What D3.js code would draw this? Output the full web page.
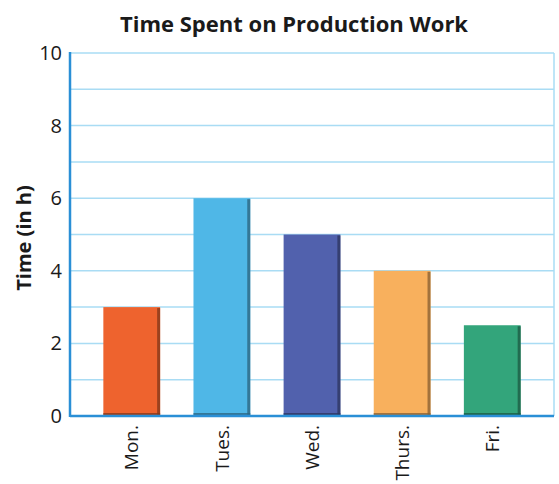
<!DOCTYPE html>
<html>
<head>
<meta charset="utf-8">
<script src="https://cdn.jsdelivr.net/npm/d3@7"></script>
<style>
  body { margin: 0; background: #fff; }
  text { font-family: "Open Sans", sans-serif; fill: #1a1a1a; }
</style>
</head>
<body>
<svg></svg>
<script>
// chart data
var days = ["Mon.", "Tues.", "Wed.", "Thurs.", "Fri."];
var hours = [3, 6, 5, 4, 2.5];
var yTicks = [0, 2, 4, 6, 8, 10];
var gridValues = [1, 2, 3, 4, 5, 6, 7, 8, 9, 10];

var width = 559, height = 484;
var margin = {left: 70, top: 53, right: 5, bottom: 68};

var svg = d3.select("svg")
    .attr("width", width)
    .attr("height", height);

var color = d3.scaleOrdinal()
    .domain(days)
    .range(["#ee632e", "#4fb7e7", "#5161ad", "#f8b05d", "#33a57b"]);

var xScale = d3.scaleBand()
    .domain(days)
    .range([margin.left, width - margin.right])
    .paddingInner(0.37)
    .paddingOuter(0.37);

var yScale = d3.scaleLinear()
    .domain([0, 10])
    .range([height - margin.bottom, margin.top]);

// gridlines
svg.append("g")
    .selectAll("line")
    .data(gridValues)
    .enter()
    .append("line")
    .attr("x1", margin.left)
    .attr("x2", width - margin.right)
    .attr("y1", function(d){ return yScale(d); })
    .attr("y2", function(d){ return yScale(d); })
    .style("stroke", "#a9dcf4")
    .style("stroke-width", 1.5);

// right border
svg.append("line")
    .attr("x1", width - margin.right)
    .attr("x2", width - margin.right)
    .attr("y1", yScale(10))
    .attr("y2", yScale(0))
    .style("stroke", "#a9dcf4")
    .style("stroke-width", 1.5);

// bars
var bars = svg.append("g")
    .selectAll("g")
    .data(days.map(function(d, i){ return {day: d, value: hours[i]}; }))
    .enter()
    .append("g");

bars.append("rect")
    .attr("x", function(d){ return xScale(d.day); })
    .attr("y", function(d){ return yScale(d.value); })
    .attr("width", xScale.bandwidth())
    .attr("height", function(d){ return yScale(0) - yScale(d.value); })
    .style("fill", function(d){ return color(d.day); });

// darker right edge for a bit of depth
bars.append("rect")
    .attr("x", function(d){ return xScale(d.day) + xScale.bandwidth() - 3; })
    .attr("y", function(d){ return yScale(d.value) + 1; })
    .attr("width", 3)
    .attr("height", function(d){ return yScale(0) - yScale(d.value) - 1; })
    .style("fill", function(d){ return d3.color(color(d.day)).darker(1.6); })
    .style("opacity", 0.8);

bars.append("rect")
    .attr("x", function(d){ return xScale(d.day); })
    .attr("y", yScale(0) - 3)
    .attr("width", xScale.bandwidth())
    .attr("height", 3)
    .style("fill", function(d){ return d3.color(color(d.day)).darker(1.6); })
    .style("opacity", 0.8);

// axes
var yAxis = d3.axisLeft(yScale)
    .tickValues(yTicks)
    .tickSize(0)
    .tickPadding(8);

var gy = svg.append("g")
    .attr("transform", "translate(" + margin.left + ",0)")
    .call(yAxis);
gy.select(".domain").remove();
gy.selectAll("text")
    .style("font-size", "20px")
    .style("fill", "#1a1a1a");

svg.append("line")
    .attr("x1", margin.left)
    .attr("x2", margin.left)
    .attr("y1", yScale(10) - 1)
    .attr("y2", yScale(0) + 1)
    .style("stroke", "#2a8fd6")
    .style("stroke-width", 2.5);

svg.append("line")
    .attr("x1", margin.left)
    .attr("x2", width - margin.right)
    .attr("y1", yScale(0))
    .attr("y2", yScale(0))
    .style("stroke", "#2a8fd6")
    .style("stroke-width", 2.5);

var xAxis = d3.axisBottom(xScale)
    .tickSize(0)
    .tickPadding(0);

var gx = svg.append("g")
    .attr("transform", "translate(0," + yScale(0) + ")")
    .call(xAxis);
gx.select(".domain").remove();
gx.selectAll("text")
    .attr("transform", "rotate(-90)")
    .attr("text-anchor", "end")
    .attr("x", -9)
    .attr("y", 0)
    .attr("dy", "0.35em")
    .style("font-size", "19px")
    .style("fill", "#1a1a1a");

// title
svg.append("text")
    .attr("x", 294)
    .attr("y", 32)
    .attr("text-anchor", "middle")
    .style("font-size", "22px")
    .style("font-weight", "bold")
    .text("Time Spent on Production Work");

// y-axis name
svg.append("text")
    .attr("transform", "translate(31," + 238 + ") rotate(-90)")
    .attr("text-anchor", "middle")
    .style("font-size", "20px")
    .style("font-weight", "bold")
    .text("Time (in h)");
</script>
</body>
</html>
